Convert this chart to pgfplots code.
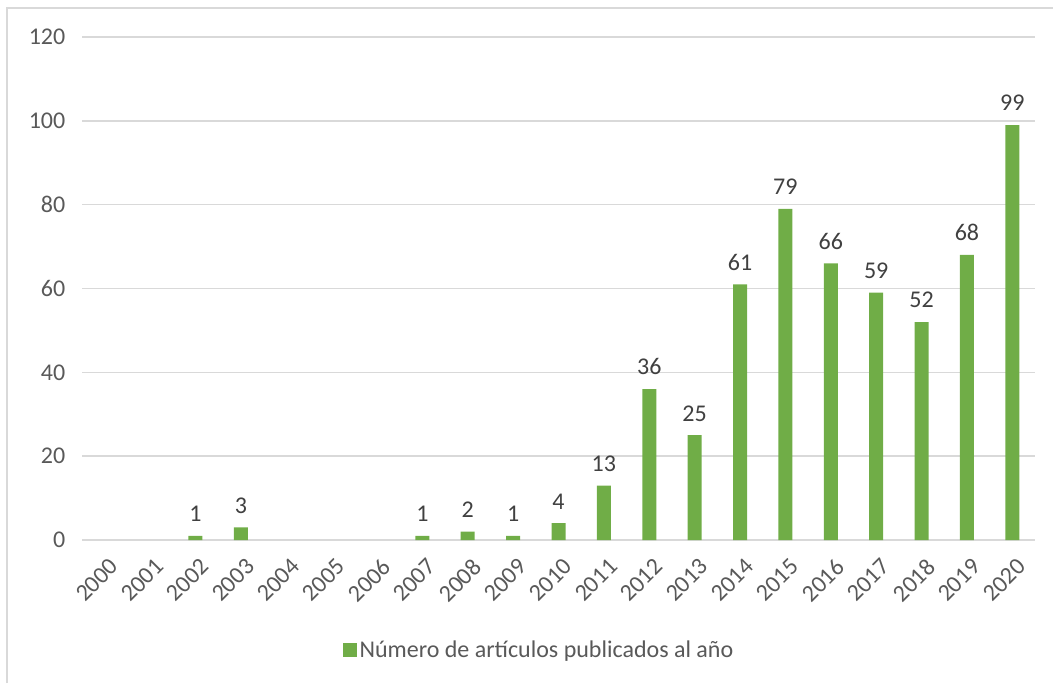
\documentclass[border=0pt]{standalone}
\usepackage{fontspec}
\setmainfont{Carlito}
\usepackage{pgfplots}
\pgfplotsset{compat=1.18}
\definecolor{bargreen}{HTML}{70AD47}
\definecolor{gridgray}{HTML}{D9D9D9}
\definecolor{ticktext}{HTML}{595959}
\definecolor{labeltext}{HTML}{404040}

\begin{document}
\begin{tikzpicture}[x=0.75pt,y=0.75pt]
  % page frame: 1053 x 683 px, 1px = 0.75pt
  \useasboundingbox (0,0) rectangle (1053,683);
  \draw[gridgray, line width=1.5pt] (7,0) -- (7,675) -- (1053,675);
  \begin{axis}[
    at={(61.5pt,107.25pt)}, anchor=south west,
    scale only axis,
    width=714.75pt, height=377.25pt,
    xmin=-0.5, xmax=20.5,
    ymin=0, ymax=120,
    ytick={0,20,...,120},
    xtick={0,...,20},
    xticklabels={2000,2001,2002,2003,2004,2005,2006,2007,2008,2009,2010,2011,2012,2013,2014,2015,2016,2017,2018,2019,2020},
    axis line style={draw=none},
    major tick style={draw=none},
    ymajorgrids,
    grid style={gridgray, line width=1.1pt},
    tick label style={font=\fontsize{18}{20}\selectfont, text=ticktext},
    /pgf/number format/assume math mode=true,
    yticklabel style={xshift=-9pt},
    xticklabel style={rotate=45, anchor=north east, inner sep=1pt, xshift=-3pt, yshift=-7pt},
    ybar, bar width=10.5pt,
    nodes near coords,
    every node near coord/.append style={font=\fontsize{18}{20}\selectfont, text=labeltext, yshift=7pt},
    legend style={at={(0.48,-0.219)}, anchor=center, draw=none,
      font=\fontsize{18}{20}\selectfont, text=ticktext},
    legend image code/.code={\fill[bargreen] (0cm,-0.185cm) rectangle (0.37cm,0.185cm);},
  ]
    \addplot[fill=bargreen, draw=none] coordinates {
      (2,1) (3,3) (7,1) (8,2) (9,1) (10,4) (11,13) (12,36) (13,25)
      (14,61) (15,79) (16,66) (17,59) (18,52) (19,68) (20,99)
    };
    \addlegendentry{Número de artículos publicados al año}
  \end{axis}
\end{tikzpicture}
\end{document}
